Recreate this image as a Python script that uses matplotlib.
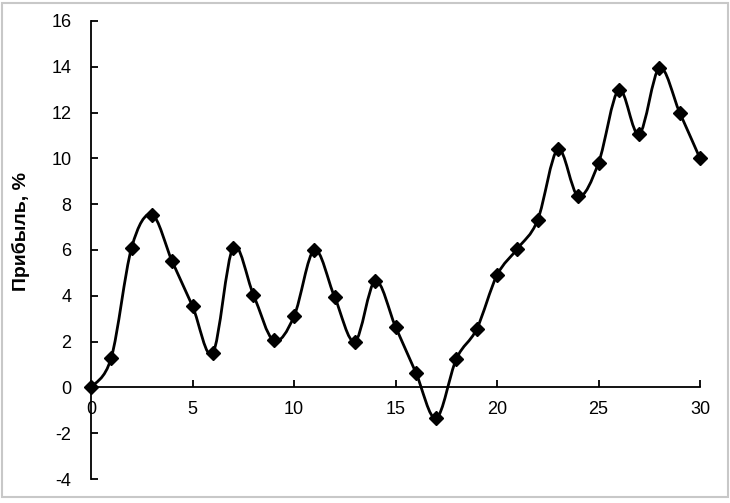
import matplotlib.pyplot as plt
from matplotlib.path import Path
from matplotlib.patches import PathPatch, Rectangle

# Profit values by period
periods = list(range(0, 31))
profit = [0, 1.3, 6.1, 7.55, 5.5, 3.55, 1.5, 6.1, 4.05, 2.05,
          3.1, 6.0, 3.95, 2.0, 4.65, 2.65, 0.65, -1.35, 1.25, 2.55,
          4.9, 6.05, 7.3, 10.4, 8.35, 9.8, 13.0, 11.05, 13.95, 12.0,
          10.0]

x_ticks = [0, 5, 10, 15, 20, 25, 30]
y_ticks = [-4, -2, 0, 2, 4, 6, 8, 10, 12, 14, 16]

plt.rcParams['font.family'] = ['Liberation Sans', 'DejaVu Sans']
plt.rcParams['axes.unicode_minus'] = False

fig = plt.figure(figsize=(7.3, 5.03), dpi=100)
ax = fig.add_axes([91 / 730, 24 / 503, 609 / 730, 458 / 503])

# Excel-like smoothed line: Bezier segments through the data points
verts = [(periods[0], profit[0])]
codes = [Path.MOVETO]
n = len(periods)
for i in range(n - 1):
    p0 = (periods[max(i - 1, 0)], profit[max(i - 1, 0)])
    p1 = (periods[i], profit[i])
    p2 = (periods[i + 1], profit[i + 1])
    p3 = (periods[min(i + 2, n - 1)], profit[min(i + 2, n - 1)])
    c1 = (p1[0] + (p2[0] - p0[0]) / 6, p1[1] + (p2[1] - p0[1]) / 6)
    c2 = (p2[0] - (p3[0] - p1[0]) / 6, p2[1] - (p3[1] - p1[1]) / 6)
    verts += [c1, c2, p2]
    codes += [Path.CURVE4] * 3
ax.add_patch(PathPatch(Path(verts, codes), facecolor='none', edgecolor='black',
                       linewidth=2.0, zorder=3))
ax.plot(periods, profit, linestyle='none', marker='D', markersize=7,
        color='black', zorder=4, clip_on=False)

ax.set_xlim(0, 30)
ax.set_ylim(-4, 16)
ax.spines['top'].set_visible(False)
ax.spines['right'].set_visible(False)
ax.spines['bottom'].set_position(('data', 0))
ax.spines['left'].set_linewidth(1.3)
ax.spines['bottom'].set_linewidth(1.3)
ax.set_xticks(x_ticks)
ax.set_yticks(y_ticks)
ax.tick_params(axis='x', direction='in', length=5, width=1.3, labelsize=13, pad=10)
ax.tick_params(axis='y', direction='in', length=5, width=1.3, labelsize=13, pad=14)
ax.set_ylabel('Прибыль, %', fontsize=14, fontweight='bold')
ax.yaxis.set_label_coords(-0.10, 0.54)

# light grey chart frame
fig.patches.append(Rectangle((2 / 730, 6 / 503), 726 / 730, 494 / 503,
                             transform=fig.transFigure, fill=False,
                             edgecolor='#c8c8c8', linewidth=1.5))

fig.savefig('out.png', dpi=100)
